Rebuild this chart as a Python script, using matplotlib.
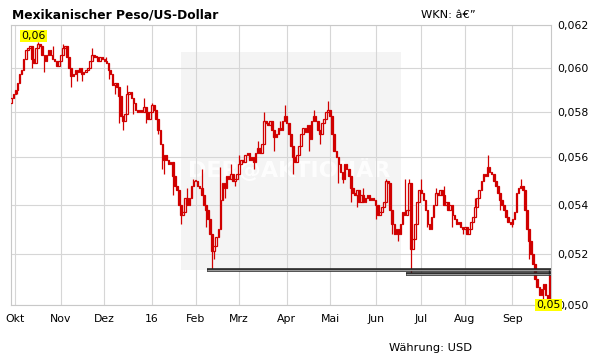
import matplotlib
matplotlib.use('Agg')
import matplotlib.pyplot as plt
from matplotlib.patches import Rectangle
from matplotlib.ticker import NullLocator, FixedLocator, FixedFormatter
import pandas as pd

# daily closes, Mexican peso in US dollar, trading days from 29 Sep 2015
closes = [
    0.0586, 0.0588,
    # Okt
    0.0590, 0.0593, 0.0597, 0.0599, 0.0604, 0.0608, 0.0609, 0.0610, 0.0604, 0.0602, 0.0609,
    0.0611, 0.0610, 0.0606, 0.0603, 0.0606, 0.0608, 0.0606, 0.0604, 0.0603, 0.0601, 0.0603,
    # Nov
    0.0606, 0.0609, 0.0610, 0.0605, 0.0600, 0.0596, 0.0597, 0.0599, 0.0598, 0.0600, 0.0597,
    0.0598, 0.0599, 0.0600, 0.0603, 0.0606, 0.0605, 0.0605, 0.0603, 0.0605, 0.0604,
    # Dez
    0.0603, 0.0602, 0.0599, 0.0597, 0.0592, 0.0593, 0.0591, 0.0587, 0.0578, 0.0576, 0.0579,
    0.0588, 0.0589, 0.0586, 0.0584, 0.0581, 0.0580, 0.0581, 0.0580, 0.0582, 0.0580, 0.0577, 0.0580,
    # Jan
    0.0583, 0.0581, 0.0577, 0.0572, 0.0566, 0.0559, 0.0561, 0.0559, 0.0557, 0.0558, 0.0552,
    0.0548, 0.0546, 0.0540, 0.0536, 0.0537, 0.0543, 0.0540, 0.0543, 0.0548, 0.0550,
    # Feb
    0.0550, 0.0548, 0.0547, 0.0544, 0.0540, 0.0538, 0.0534, 0.0528, 0.0521, 0.0523, 0.0527,
    0.0530, 0.0542, 0.0549, 0.0547, 0.0552, 0.0551, 0.0553, 0.0550, 0.0551, 0.0553,
    # Mrz
    0.0557, 0.0559, 0.0558, 0.0561, 0.0562, 0.0559, 0.0560, 0.0558, 0.0562, 0.0564, 0.0562,
    0.0566, 0.0576, 0.0575, 0.0574, 0.0576, 0.0572, 0.0569, 0.0570, 0.0573, 0.0572, 0.0576, 0.0578,
    # Apr
    0.0575, 0.0570, 0.0565, 0.0560, 0.0558, 0.0561, 0.0565, 0.0570, 0.0573, 0.0571, 0.0574,
    0.0568, 0.0576, 0.0578, 0.0576, 0.0572, 0.0570, 0.0575, 0.0577, 0.0580, 0.0581,
    # Mai
    0.0578, 0.0570, 0.0563, 0.0560, 0.0557, 0.0554, 0.0551, 0.0557, 0.0555, 0.0552, 0.0547,
    0.0545, 0.0544, 0.0546, 0.0541, 0.0544, 0.0541, 0.0543, 0.0544, 0.0542, 0.0543, 0.0542,
    # Jun
    0.0540, 0.0536, 0.0537, 0.0539, 0.0541, 0.0550, 0.0549, 0.0538, 0.0532, 0.0528, 0.0530,
    0.0528, 0.0532, 0.0537, 0.0536, 0.0538, 0.0549, 0.0522, 0.0526, 0.0532, 0.0541, 0.0546,
    # Jul
    0.0545, 0.0542, 0.0538, 0.0532, 0.0530, 0.0535, 0.0540, 0.0545, 0.0544, 0.0546, 0.0544,
    0.0540, 0.0541, 0.0538, 0.0540, 0.0536, 0.0534, 0.0532, 0.0533, 0.0531, 0.0530,
    # Aug
    0.0531, 0.0528, 0.0530, 0.0533, 0.0535, 0.0539, 0.0543, 0.0546, 0.0550, 0.0553, 0.0552,
    0.0556, 0.0554, 0.0553, 0.0550, 0.0548, 0.0545, 0.0542, 0.0540, 0.0538, 0.0535, 0.0533, 0.0532,
    # Sep
    0.0534, 0.0537, 0.0545, 0.0547, 0.0548, 0.0546, 0.0538, 0.0530, 0.0525, 0.0520, 0.0516,
    0.0510, 0.0507, 0.0504, 0.0506, 0.0508, 0.0504, 0.0502, 0.0512,
]
first_open = 0.0584

# visible wicks (trading day index -> value)
wick_highs = {13: 0.0612, 20: 0.0610, 25: 0.0611, 39: 0.0609, 46: 0.0605, 56: 0.0592,
              64: 0.0586, 68: 0.0584, 85: 0.0547, 88: 0.0551, 92: 0.0555, 101: 0.0556,
              106: 0.0557, 110: 0.0561, 114: 0.0562, 119: 0.0567, 122: 0.0580, 130: 0.0576,
              132: 0.0583, 146: 0.0581, 153: 0.0585, 170: 0.0547, 181: 0.0551, 190: 0.0551,
              192: 0.0551, 198: 0.0551, 205: 0.0547, 209: 0.0548, 224: 0.0543, 230: 0.0561,
              246: 0.0551, 260: 0.0513}
wick_lows = {0: 0.0585, 3: 0.0588, 10: 0.0600, 16: 0.0598, 23: 0.0601, 29: 0.0591,
             32: 0.0594, 34: 0.0594, 47: 0.0595, 50: 0.0588, 52: 0.0575, 54: 0.0572,
             59: 0.0579, 65: 0.0575, 71: 0.0570, 73: 0.0555, 74: 0.0553, 78: 0.0544,
             82: 0.0532, 94: 0.0531, 97: 0.05137, 98: 0.0518, 103: 0.0543, 108: 0.0548,
             117: 0.0555, 127: 0.0563, 136: 0.0553, 144: 0.0563, 149: 0.0566, 158: 0.0549,
             160: 0.0549, 164: 0.0541, 167: 0.0539, 176: 0.0534, 184: 0.0528, 187: 0.0525,
             193: 0.0512, 201: 0.0531, 213: 0.0531, 218: 0.0528, 220: 0.0528, 236: 0.0538,
             242: 0.0531, 250: 0.0518, 257: 0.0502}

support_levels = [0.05137, 0.0512]
support_from = [97, 193]

start_date = '2015-09-29'
month_labels = ['Okt', 'Nov', 'Dez', '16', 'Feb', 'Mrz', 'Apr', 'Mai', 'Jun', 'Jul', 'Aug', 'Sep']
y_ticks = [0.050, 0.052, 0.054, 0.056, 0.058, 0.060, 0.062]
max_label = '0,06'
min_label = '0,05'

red = '#d00000'
grid = '#d6d6d6'

dates = pd.bdate_range(start_date, periods=len(closes))
idx = list(range(len(closes)))
opens = [first_open] + closes[:-1]

fig = plt.figure(figsize=(6.11, 3.64), dpi=100)
ax = fig.add_axes([10.7 / 611, 59 / 364, 540 / 611, 280 / 364])
ax.set_yscale('log')
ax.set_ylim(0.050, 0.062)
ax.set_xlim(-0.25, 260.5)

# month gridlines at first trading day of each month
month_pos = [i for i in idx if i > 0 and dates[i].month != dates[i - 1].month]
ax.xaxis.set_major_locator(FixedLocator(month_pos))
ax.xaxis.set_major_formatter(FixedFormatter(month_labels))
ax.yaxis.set_major_locator(FixedLocator(y_ticks))
ax.yaxis.set_major_formatter(FixedFormatter([('%.3f' % v).replace('.', ',') for v in y_ticks]))
ax.yaxis.set_minor_locator(NullLocator())
ax.yaxis.tick_right()
ax.tick_params(axis='both', length=0, labelsize=7.8, colors='black')
ax.tick_params(axis='y', pad=4.5)
ax.tick_params(axis='x', pad=6.5)
ax.grid(True, color=grid, linewidth=0.8)
ax.set_axisbelow(True)
for s in ax.spines.values():
    s.set_color('#c8c8c8')
    s.set_linewidth(0.8)

# watermark
ax.add_patch(Rectangle((82, 0.05137), 106, 0.06073 - 0.05137, facecolor='#f4f4f4',
                       edgecolor='none', zorder=0))
ax.text(134, 0.0555, 'DER@AKTIONÄR', color='white', fontsize=16, fontweight='bold',
        ha='center', va='center', zorder=0.5, alpha=0.85)

# wicks
for i, v in wick_highs.items():
    ax.vlines(i, max(opens[i], closes[i]), v, color=red, linewidth=0.9, zorder=2)
for i, v in wick_lows.items():
    ax.vlines(i, v, min(opens[i], closes[i]), color=red, linewidth=0.9, zorder=2)

# candles: rising hollow, falling filled
for i in idx:
    o, c = opens[i], closes[i]
    up = c >= o
    lo, hi = min(o, c), max(o, c)
    if hi - lo < 0.00002:
        hi = lo + 0.00002
    ax.add_patch(Rectangle((i - 0.38, lo), 0.76, hi - lo,
                           facecolor='white' if up else red, edgecolor=red,
                           linewidth=0.9, zorder=3))

# support lines
for lvl, start in zip(support_levels, support_from):
    ax.hlines(lvl, start - 2.5, 260.5, color='#222222', linewidth=2.6, zorder=4)
    ax.hlines(lvl, start - 2.5, 260.5, color='#9a9a9a', linewidth=0.9, zorder=4)
ax.vlines(259.9, support_levels[1], support_levels[0], color='#222222', linewidth=1.0, zorder=4)

# high/low labels
ax.text(5, 0.06148, max_label, fontsize=7.8, ha='left', va='center', zorder=5,
        bbox=dict(boxstyle='square,pad=0.1', facecolor='#ffff00', edgecolor='none'))
ax.text((536.5 - 10.7) / 540, 0.0, min_label, transform=ax.transAxes, fontsize=7.8,
        ha='left', va='center', zorder=5, clip_on=False,
        bbox=dict(boxstyle='square,pad=0.1', facecolor='#ffff00', edgecolor='none'))

fig.text(12 / 611, 1 - 15 / 364, 'Mexikanischer Peso/US-Dollar', fontsize=8.8,
         fontweight='bold', ha='left', va='center')
fig.text(421 / 611, 1 - 15 / 364, 'WKN: â€”', fontsize=8.2, ha='left', va='center')
fig.text(389 / 611, 1 - 348 / 364, 'Währung: USD', fontsize=8.2, ha='left', va='center')

fig.savefig('out.png', dpi=100)
